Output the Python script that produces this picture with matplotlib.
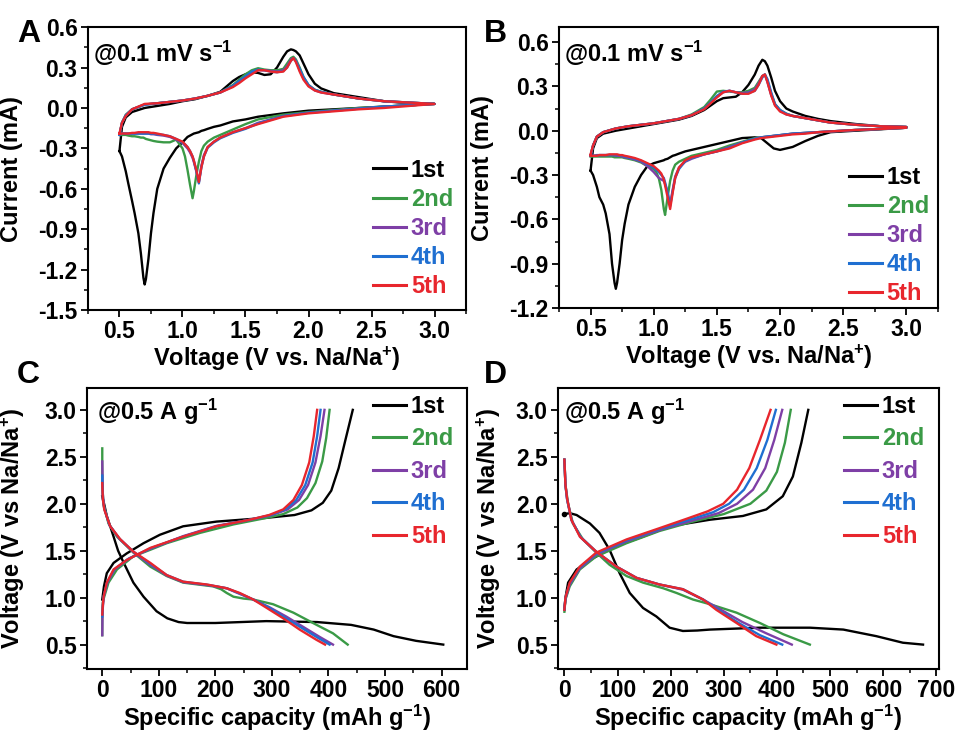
import matplotlib
matplotlib.use("Agg")
import matplotlib.pyplot as plt
from matplotlib.ticker import MultipleLocator, AutoMinorLocator

plt.rcParams['font.family'] = ['Liberation Sans', 'DejaVu Sans']
plt.rcParams['font.weight'] = 'bold'
plt.rcParams['axes.unicode_minus'] = False
plt.rcParams['mathtext.fontset'] = 'custom'
plt.rcParams['mathtext.rm'] = 'Liberation Sans:bold'
plt.rcParams['mathtext.bf'] = 'Liberation Sans:bold'
plt.rcParams['mathtext.it'] = 'Liberation Sans:bold'
plt.rcParams['mathtext.default'] = 'bf'

cycles = ['1st', '2nd', '3rd', '4th', '5th']
colors = ['#000000', '#3a9a46', '#7e3fa6', '#1f6fd1', '#e8262d']

# ---------------- Panel A : CV (anodic & cathodic branches) ----------------
A_ox_V = [0.5, 0.52, 0.55, 0.6, 0.7, 0.8, 0.9, 1.0, 1.1, 1.2, 1.3, 1.4, 1.45, 1.5, 1.55, 1.6, 1.65, 1.7,
          1.75, 1.8, 1.83, 1.86, 1.88, 1.9, 1.93, 1.96, 2.0, 2.05, 2.1, 2.2, 2.3, 2.4, 2.6, 2.8, 3.0]
A_ox_1 = [-0.32, -0.14, -0.07, -0.03, 0.0, 0.015, 0.03, 0.05, 0.065, 0.09, 0.12, 0.2, 0.23, 0.25, 0.265, 0.26,
          0.245, 0.25, 0.3, 0.38, 0.42, 0.435, 0.43, 0.42, 0.39, 0.33, 0.25, 0.18, 0.145, 0.11, 0.095, 0.08,
          0.05, 0.035, 0.03]
A_ox_2 = [-0.2, -0.11, -0.05, -0.01, 0.025, 0.035, 0.045, 0.055, 0.07, 0.09, 0.115, 0.17, 0.21, 0.25, 0.28,
          0.295, 0.285, 0.28, 0.28, 0.29, 0.33, 0.37, 0.38, 0.36, 0.3, 0.23, 0.17, 0.135, 0.12, 0.1, 0.085,
          0.07, 0.05, 0.04, 0.03]
A_ox_3 = [-0.2, -0.11, -0.055, -0.01, 0.025, 0.035, 0.045, 0.055, 0.07, 0.09, 0.115, 0.16, 0.2, 0.23, 0.26,
          0.28, 0.28, 0.275, 0.27, 0.28, 0.31, 0.36, 0.37, 0.35, 0.28, 0.22, 0.165, 0.13, 0.115, 0.1, 0.085,
          0.07, 0.05, 0.04, 0.03]
A_ox_4 = [-0.2, -0.11, -0.055, -0.01, 0.025, 0.035, 0.045, 0.055, 0.07, 0.09, 0.115, 0.165, 0.2, 0.235,
          0.27, 0.285, 0.28, 0.27, 0.265, 0.275, 0.3, 0.35, 0.37, 0.35, 0.29, 0.23, 0.17, 0.135, 0.12, 0.1,
          0.085, 0.07, 0.05, 0.04, 0.03]
A_ox_5 = [-0.19, -0.11, -0.06, -0.01, 0.03, 0.035, 0.045, 0.055, 0.07, 0.09, 0.115, 0.155, 0.185, 0.22,
          0.25, 0.28, 0.28, 0.27, 0.265, 0.27, 0.3, 0.35, 0.37, 0.34, 0.27, 0.21, 0.16, 0.13, 0.115, 0.1,
          0.085, 0.07, 0.05, 0.04, 0.03]

A_red_V = [3.0, 2.8, 2.6, 2.4, 2.2, 2.0, 1.8, 1.6, 1.5, 1.4, 1.3, 1.25, 1.2, 1.17, 1.15, 1.13, 1.11, 1.09,
           1.08, 1.06, 1.04, 1.02, 1.0, 0.95, 0.9, 0.85, 0.8, 0.77, 0.75, 0.73, 0.71, 0.7, 0.69, 0.67, 0.65,
           0.62, 0.6, 0.57, 0.55, 0.52, 0.5]
A_red_1 = [0.03, 0.02, 0.01, 0.0, -0.01, -0.02, -0.04, -0.065, -0.085, -0.1, -0.13, -0.14, -0.155, -0.165,
           -0.17, -0.18, -0.185, -0.19, -0.195, -0.205, -0.215, -0.235, -0.255, -0.3, -0.37, -0.45, -0.6,
           -0.78, -0.93, -1.12, -1.27, -1.31, -1.26, -1.08, -0.93, -0.78, -0.69, -0.56, -0.47, -0.36, -0.32]
A_red_2 = [0.03, 0.02, 0.01, 0.0, -0.015, -0.03, -0.05, -0.085, -0.12, -0.16, -0.2, -0.22, -0.25, -0.28,
           -0.32, -0.4, -0.5, -0.62, -0.67, -0.57, -0.46, -0.36, -0.3, -0.235, -0.255, -0.255, -0.25, -0.245,
           -0.24, -0.235, -0.23, -0.225, -0.22, -0.22, -0.215, -0.21, -0.21, -0.205, -0.2, -0.2, -0.2]
A_red_3 = [0.03, 0.02, 0.01, -0.005, -0.02, -0.035, -0.06, -0.11, -0.15, -0.18, -0.22, -0.25, -0.29, -0.35,
           -0.43, -0.55, -0.47, -0.4, -0.37, -0.33, -0.3, -0.28, -0.26, -0.235, -0.215, -0.205, -0.2, -0.195,
           -0.195, -0.19, -0.19, -0.19, -0.19, -0.19, -0.19, -0.19, -0.19, -0.19, -0.19, -0.19, -0.19]
A_red_4 = [0.03, 0.02, 0.01, -0.005, -0.02, -0.035, -0.06, -0.115, -0.155, -0.185, -0.225, -0.255, -0.295,
           -0.36, -0.44, -0.56, -0.47, -0.39, -0.36, -0.32, -0.29, -0.27, -0.255, -0.23, -0.21, -0.2, -0.195,
           -0.19, -0.19, -0.19, -0.19, -0.19, -0.19, -0.19, -0.19, -0.19, -0.19, -0.19, -0.19, -0.19, -0.19]
A_red_5 = [0.03, 0.015, 0.0, -0.01, -0.025, -0.04, -0.065, -0.12, -0.15, -0.18, -0.22, -0.25, -0.29, -0.36,
           -0.44, -0.55, -0.46, -0.39, -0.36, -0.32, -0.29, -0.27, -0.25, -0.23, -0.21, -0.2, -0.19, -0.185,
           -0.185, -0.18, -0.18, -0.18, -0.18, -0.18, -0.18, -0.185, -0.185, -0.19, -0.19, -0.19, -0.19]

# ---------------- Panel B : CV ----------------
B_ox_V = A_ox_V
B_ox_1 = [-0.27, -0.12, -0.05, -0.02, 0.0, 0.015, 0.03, 0.045, 0.06, 0.075, 0.1, 0.14, 0.17, 0.2, 0.22,
          0.225, 0.23, 0.26, 0.31, 0.38, 0.44, 0.48, 0.47, 0.44, 0.36, 0.27, 0.2, 0.15, 0.13, 0.1, 0.08,
          0.065, 0.045, 0.03, 0.025]
B_ox_2 = [-0.17, -0.1, -0.04, -0.01, 0.015, 0.03, 0.04, 0.05, 0.065, 0.08, 0.11, 0.16, 0.21, 0.265, 0.27,
          0.265, 0.26, 0.26, 0.27, 0.29, 0.33, 0.37, 0.38, 0.34, 0.25, 0.18, 0.14, 0.115, 0.1, 0.085, 0.07,
          0.055, 0.04, 0.03, 0.025]
B_ox_3 = [-0.17, -0.1, -0.04, -0.01, 0.015, 0.03, 0.04, 0.05, 0.065, 0.08, 0.105, 0.15, 0.19, 0.23, 0.26,
          0.27, 0.26, 0.255, 0.26, 0.28, 0.32, 0.37, 0.38, 0.33, 0.24, 0.175, 0.135, 0.11, 0.1, 0.085, 0.07,
          0.055, 0.04, 0.03, 0.025]
B_ox_4 = [-0.17, -0.1, -0.04, -0.01, 0.015, 0.03, 0.04, 0.05, 0.065, 0.08, 0.105, 0.15, 0.19, 0.235, 0.265,
          0.27, 0.26, 0.25, 0.255, 0.27, 0.31, 0.36, 0.38, 0.35, 0.26, 0.18, 0.14, 0.115, 0.1, 0.085, 0.07,
          0.055, 0.04, 0.03, 0.025]
B_ox_5 = [-0.16, -0.1, -0.04, -0.01, 0.015, 0.03, 0.04, 0.05, 0.065, 0.08, 0.105, 0.145, 0.185, 0.225,
          0.26, 0.27, 0.26, 0.25, 0.25, 0.27, 0.31, 0.37, 0.38, 0.33, 0.24, 0.17, 0.13, 0.11, 0.1, 0.085,
          0.07, 0.055, 0.04, 0.03, 0.025]

B_red_V = [3.0, 2.8, 2.6, 2.4, 2.3, 2.2, 2.1, 2.0, 1.95, 1.9, 1.85, 1.8, 1.7, 1.6, 1.5, 1.4, 1.3, 1.25, 1.2,
           1.17, 1.15, 1.13, 1.11, 1.09, 1.08, 1.06, 1.04, 1.02, 1.0, 0.95, 0.9, 0.85, 0.8, 0.77, 0.75, 0.73,
           0.71, 0.7, 0.69, 0.67, 0.65, 0.62, 0.6, 0.57, 0.55, 0.52, 0.5]
B_red_1 = [0.02, 0.01, 0.0, -0.01, -0.035, -0.07, -0.11, -0.13, -0.12, -0.085, -0.05, -0.045, -0.05, -0.07,
           -0.09, -0.11, -0.13, -0.14, -0.155, -0.165, -0.17, -0.18, -0.19, -0.195, -0.2, -0.205, -0.21,
           -0.215, -0.22, -0.24, -0.3, -0.38, -0.5, -0.63, -0.74, -0.9, -1.03, -1.07, -1.03, -0.9, -0.7,
           -0.56, -0.5, -0.45, -0.38, -0.3, -0.27]
B_red_2 = [0.02, 0.012, 0.005, -0.005, -0.01, -0.015, -0.02, -0.03, -0.035, -0.04, -0.045, -0.05, -0.075,
           -0.1, -0.13, -0.15, -0.17, -0.19, -0.21, -0.23, -0.27, -0.34, -0.45, -0.57, -0.53, -0.4, -0.32,
           -0.28, -0.26, -0.24, -0.215, -0.2, -0.19, -0.185, -0.18, -0.18, -0.18, -0.18, -0.18, -0.175,
           -0.175, -0.175, -0.175, -0.175, -0.175, -0.175, -0.175]
B_red_3 = [0.02, 0.012, 0.005, -0.005, -0.01, -0.015, -0.02, -0.03, -0.035, -0.04, -0.045, -0.055, -0.08,
           -0.11, -0.14, -0.16, -0.19, -0.21, -0.25, -0.31, -0.4, -0.5, -0.42, -0.36, -0.34, -0.33, -0.32,
           -0.3, -0.28, -0.24, -0.21, -0.195, -0.185, -0.18, -0.175, -0.17, -0.17, -0.17, -0.165, -0.165,
           -0.165, -0.165, -0.165, -0.165, -0.165, -0.17, -0.17]
B_red_4 = [0.02, 0.012, 0.005, -0.005, -0.01, -0.015, -0.02, -0.03, -0.035, -0.04, -0.045, -0.055, -0.08,
           -0.115, -0.14, -0.16, -0.185, -0.205, -0.26, -0.32, -0.41, -0.51, -0.42, -0.35, -0.32, -0.3,
           -0.28, -0.265, -0.25, -0.225, -0.205, -0.19, -0.18, -0.175, -0.17, -0.165, -0.165, -0.165, -0.165,
           -0.165, -0.165, -0.165, -0.165, -0.165, -0.17, -0.17, -0.17]
B_red_5 = [0.02, 0.012, 0.005, -0.005, -0.01, -0.02, -0.025, -0.035, -0.04, -0.045, -0.05, -0.06, -0.085,
           -0.12, -0.14, -0.16, -0.18, -0.2, -0.25, -0.32, -0.42, -0.53, -0.45, -0.37, -0.33, -0.29, -0.27,
           -0.255, -0.24, -0.22, -0.2, -0.185, -0.175, -0.17, -0.165, -0.165, -0.16, -0.16, -0.16, -0.16,
           -0.16, -0.165, -0.165, -0.165, -0.17, -0.17, -0.17]

# ---------------- Panel C : charge/discharge (capacity, voltage) ----------------
C_dis_1 = [(0, 2.08), (4, 1.98), (8, 1.87), (14, 1.76), (20, 1.65), (28, 1.5), (38, 1.37), (55, 1.16),
           (73, 1.01), (96, 0.855), (115, 0.78), (135, 0.74), (150, 0.73), (200, 0.73), (290, 0.75),
           (380, 0.74), (440, 0.71), (480, 0.66), (515, 0.59), (555, 0.54), (603, 0.5)]
C_chg_1 = [(0, 0.98), (3, 1.12), (8, 1.26), (20, 1.37), (43, 1.47), (73, 1.58), (102, 1.67), (143, 1.76),
           (202, 1.81), (290, 1.85), (340, 1.88), (370, 1.93), (390, 2.01), (405, 2.14), (418, 2.38),
           (430, 2.68), (443, 3.0)]
C_dis_2 = [(0, 2.59), (0, 2.22), (2, 2.0), (11, 1.79), (26, 1.65), (55, 1.48), (85, 1.33), (114, 1.23),
           (143, 1.16), (196, 1.12), (210, 1.09), (220, 1.05), (232, 1.01), (250, 0.99), (267, 0.98),
           (302, 0.93), (338, 0.84), (379, 0.71), (408, 0.62), (434, 0.5)]
C_chg_2 = [(0, 0.6), (0, 0.8), (1, 0.95), (3.5, 1.01), (11, 1.16), (26, 1.3), (55, 1.44), (85, 1.51),
           (114, 1.58), (173, 1.69), (232, 1.78), (291, 1.85), (320, 1.89), (345, 1.96), (362, 2.06),
           (377, 2.22), (389, 2.45), (396, 2.7), (402, 3.0)]
C_dis_3 = [(0, 2.45), (1, 2.1), (3.5, 1.95), (13, 1.77), (30, 1.63), (55, 1.485), (85, 1.35), (114, 1.235),
           (143, 1.165), (190, 1.13), (220, 1.1), (243, 1.04), (267, 0.98), (295, 0.9), (325, 0.8),
           (355, 0.69), (385, 0.58), (408, 0.5)]
C_chg_3 = [(0, 0.6), (0.5, 0.85), (2.4, 1.01), (9, 1.16), (22, 1.3), (48, 1.42), (85, 1.52), (143, 1.655),
           (202, 1.765), (261, 1.83), (300, 1.88), (328, 1.94), (348, 2.04), (364, 2.2), (377, 2.44),
           (386, 2.72), (393, 3.0)]
C_dis_4 = [(0, 2.3), (1, 2.05), (3.5, 1.95), (13, 1.77), (30, 1.63), (55, 1.49), (85, 1.36), (114, 1.24),
           (143, 1.17), (188, 1.135), (220, 1.1), (243, 1.045), (267, 0.98), (293, 0.9), (322, 0.79),
           (352, 0.68), (382, 0.57), (402, 0.5)]
C_chg_4 = [(0, 0.8), (1, 0.92), (2.4, 1.01), (8.5, 1.16), (21, 1.3), (45, 1.41), (85, 1.525), (143, 1.65),
           (202, 1.76), (261, 1.83), (298, 1.88), (324, 1.94), (343, 2.04), (359, 2.2), (372, 2.44),
           (380, 2.72), (386, 3.0)]
C_dis_5 = [(0, 2.22), (1, 2.05), (3.5, 1.94), (14, 1.76), (32, 1.62), (55, 1.49), (85, 1.37), (114, 1.24),
           (143, 1.17), (185, 1.14), (220, 1.1), (243, 1.05), (267, 0.98), (291, 0.89), (320, 0.78),
           (349, 0.66), (379, 0.55), (394, 0.5)]
C_chg_5 = [(0, 0.82), (1, 0.92), (2.4, 1.01), (8, 1.16), (20, 1.3), (43, 1.4), (85, 1.53), (143, 1.65),
           (202, 1.76), (261, 1.83), (295, 1.88), (320, 1.94), (338, 2.04), (353, 2.2), (366, 2.44),
           (374, 2.72), (380, 3.0)]

# ---------------- Panel D : charge/discharge ----------------
D_dis_1 = [(0, 1.89), (10, 1.9), (23, 1.88), (48, 1.79), (66, 1.69), (85, 1.51), (104, 1.26), (123, 1.05),
           (148, 0.89), (173, 0.8), (198, 0.68), (223, 0.645), (250, 0.65), (274, 0.66), (368, 0.68),
           (462, 0.68), (525, 0.66), (587, 0.59), (637, 0.52), (675, 0.5)]
D_chg_1 = [(0, 0.87), (2, 1.0), (7, 1.16), (23, 1.3), (54, 1.42), (98, 1.55), (148, 1.65), (198, 1.76),
           (274, 1.83), (336, 1.87), (380, 1.94), (411, 2.08), (430, 2.29), (446, 2.65), (459, 3.0)]
D_dis_2 = [(0, 2.47), (2, 2.2), (7, 2.0), (16, 1.79), (35, 1.62), (60, 1.48), (85, 1.35), (117, 1.23),
           (148, 1.16), (186, 1.1), (211, 1.05), (242, 0.98), (274, 0.93), (324, 0.84), (368, 0.73),
           (412, 0.61), (462, 0.5)]
D_chg_2 = [(0, 0.85), (2, 0.98), (10, 1.12), (29, 1.3), (60, 1.44), (117, 1.58), (179, 1.71), (242, 1.81),
           (300, 1.89), (350, 2.0), (380, 2.14), (400, 2.34), (415, 2.65), (426, 3.0)]
D_dis_3 = [(0, 2.47), (2, 2.2), (5, 2.05), (14, 1.82), (31, 1.64), (60, 1.485), (98, 1.33), (136, 1.21),
           (179, 1.14), (223, 1.085), (261, 0.98), (292, 0.88), (335, 0.74), (380, 0.62), (428, 0.5)]
D_chg_3 = [(0, 0.87), (2, 0.99), (10, 1.14), (29, 1.31), (60, 1.46), (117, 1.6), (179, 1.72), (240, 1.82),
           (290, 1.9), (325, 2.0), (355, 2.15), (378, 2.38), (395, 2.68), (410, 3.0)]
D_dis_4 = [(0, 2.47), (2, 2.2), (5, 2.05), (13, 1.83), (30, 1.65), (60, 1.49), (98, 1.33), (136, 1.21),
           (179, 1.14), (223, 1.09), (261, 0.98), (288, 0.875), (328, 0.73), (368, 0.6), (410, 0.5)]
D_chg_4 = [(0, 0.87), (2, 1.0), (10, 1.15), (29, 1.32), (60, 1.47), (117, 1.61), (179, 1.73), (235, 1.83),
           (280, 1.91), (310, 2.0), (338, 2.15), (362, 2.38), (382, 2.68), (398, 3.0)]
D_dis_5 = [(0, 2.47), (2, 2.2), (5, 2.06), (13, 1.83), (29, 1.65), (60, 1.49), (98, 1.33), (136, 1.21),
           (179, 1.14), (223, 1.09), (261, 0.98), (286, 0.87), (324, 0.73), (361, 0.59), (399, 0.5)]
D_chg_5 = [(0, 0.87), (2, 1.0), (10, 1.16), (29, 1.33), (60, 1.48), (117, 1.62), (179, 1.74), (230, 1.84),
           (270, 1.92), (299, 2.0), (325, 2.15), (348, 2.38), (368, 2.68), (388, 3.0)]

FS_TICK = 16.5
FS_LAB = 17
FS_LEG = 17
LW = 1.7

fig = plt.figure(figsize=(9.56, 7.33), dpi=100)

def style(ax, xmaj, ymaj):
    for s in ax.spines.values():
        s.set_linewidth(1.5)
    ax.xaxis.set_major_locator(MultipleLocator(xmaj))
    ax.yaxis.set_major_locator(MultipleLocator(ymaj))
    ax.xaxis.set_minor_locator(AutoMinorLocator(2))
    ax.yaxis.set_minor_locator(AutoMinorLocator(2))
    ax.tick_params(which='major', direction='out', length=5, width=1.3, labelsize=FS_TICK, pad=2.5)
    ax.tick_params(which='minor', direction='out', length=3, width=1.1)
    for lab in ax.get_xticklabels() + ax.get_yticklabels():
        lab.set_fontweight('bold')

def legend(ax, x, y, spacing):
    leg = ax.legend(loc='upper left', bbox_to_anchor=(x, y), frameon=False, borderpad=0, borderaxespad=0,
                    handlelength=1.4, handletextpad=0.2, labelspacing=spacing,
                    prop={'weight': 'bold', 'size': FS_LEG}, labelcolor='linecolor')
    for h in leg.get_lines():
        h.set_linewidth(2.2)
    return leg

# Panel A
axA = fig.add_axes([0.092, 0.577, 0.3955, 0.386])
for c, lab, ox, rd in zip(colors, cycles, [A_ox_1, A_ox_2, A_ox_3, A_ox_4, A_ox_5],
                          [A_red_1, A_red_2, A_red_3, A_red_4, A_red_5]):
    axA.plot(A_ox_V + A_red_V, ox + rd, color=c, lw=LW, label=lab, solid_joinstyle='round')
axA.set_xlim(0.25, 3.25)
axA.set_ylim(-1.5, 0.6)
style(axA, 0.5, 0.3)
axA.set_xlabel(r'Voltage (V vs. Na/Na$^{+}$)', fontsize=FS_LAB, fontweight='bold', labelpad=1)
axA.set_ylabel('Current (mA)', fontsize=FS_LAB, fontweight='bold')
axA.yaxis.set_label_coords(-0.172, 0.5)
axA.text(0.013, 0.876, r'@0.1 mV s$^{-1}$', transform=axA.transAxes, fontsize=FS_LEG, fontweight='bold',
         va='baseline')
legend(axA, 0.754, 0.535, 0.26)

# Panel B
axB = fig.add_axes([0.5847, 0.5798, 0.3964, 0.383])
for c, lab, ox, rd in zip(colors, cycles, [B_ox_1, B_ox_2, B_ox_3, B_ox_4, B_ox_5],
                          [B_red_1, B_red_2, B_red_3, B_red_4, B_red_5]):
    axB.plot(B_ox_V + B_red_V, ox + rd, color=c, lw=LW, label=lab, solid_joinstyle='round')
axB.set_xlim(0.25, 3.25)
axB.set_ylim(-1.2, 0.7)
style(axB, 0.5, 0.3)
axB.set_xlabel(r'Voltage (V vs. Na/Na$^{+}$)', fontsize=FS_LAB, fontweight='bold', labelpad=1)
axB.set_ylabel('Current (mA)', fontsize=FS_LAB, fontweight='bold')
axB.yaxis.set_label_coords(-0.172, 0.5)
axB.text(0.013, 0.875, r'@0.1 mV s$^{-1}$', transform=axB.transAxes, fontsize=FS_LEG, fontweight='bold',
         va='baseline')
legend(axB, 0.765, 0.505, 0.25)

# Panel C
axC = fig.add_axes([0.091, 0.0873, 0.3975, 0.383])
for c, lab, d, ch in zip(colors, cycles, [C_dis_1, C_dis_2, C_dis_3, C_dis_4, C_dis_5],
                         [C_chg_1, C_chg_2, C_chg_3, C_chg_4, C_chg_5]):
    axC.plot([p[0] for p in d], [p[1] for p in d], color=c, lw=LW, label=lab, solid_joinstyle='round')
    axC.plot([p[0] for p in ch], [p[1] for p in ch], color=c, lw=LW, solid_joinstyle='round')
axC.set_xlim(-27, 645)
axC.set_ylim(0.24, 3.23)
style(axC, 100, 0.5)
axC.set_xlabel(r'Specific capacity (mAh g$^{-1}$)', fontsize=FS_LAB, fontweight='bold', labelpad=0)
axC.set_ylabel(r'Voltage (V vs Na/Na$^{+}$)', fontsize=FS_LAB, fontweight='bold')
axC.yaxis.set_label_coords(-0.158, 0.5)
axC.text(0.026, 0.886, r'@0.5 A g$^{-1}$', transform=axC.transAxes, fontsize=FS_LEG, fontweight='bold',
         va='baseline')
legend(axC, 0.753, 0.976, 0.4)

# Panel D
axD = fig.add_axes([0.5837, 0.0873, 0.3985, 0.383])
for c, lab, d, ch in zip(colors, cycles, [D_dis_1, D_dis_2, D_dis_3, D_dis_4, D_dis_5],
                         [D_chg_1, D_chg_2, D_chg_3, D_chg_4, D_chg_5]):
    axD.plot([p[0] for p in d], [p[1] for p in d], color=c, lw=LW, label=lab, solid_joinstyle='round')
    axD.plot([p[0] for p in ch], [p[1] for p in ch], color=c, lw=LW, solid_joinstyle='round')
axD.plot([D_dis_1[0][0]], [D_dis_1[0][1]], 'o', color='k', ms=3)
axD.set_xlim(-12, 705)
axD.set_ylim(0.24, 3.23)
style(axD, 100, 0.5)
axD.set_xlabel(r'Specific capacity (mAh g$^{-1}$)', fontsize=FS_LAB, fontweight='bold', labelpad=0)
axD.set_ylabel(r'Voltage (V vs Na/Na$^{+}$)', fontsize=FS_LAB, fontweight='bold')
axD.yaxis.set_label_coords(-0.144, 0.5)
axD.text(0.016, 0.886, r'@0.5 A g$^{-1}$', transform=axD.transAxes, fontsize=FS_LEG, fontweight='bold',
         va='baseline')
legend(axD, 0.751, 0.976, 0.4)

for x, y, t in [(0.0178, 0.9427, 'A'), (0.506, 0.9427, 'B'), (0.0178, 0.4775, 'C'), (0.506, 0.4775, 'D')]:
    fig.text(x, y, t, fontsize=23, fontweight='bold', va='baseline', ha='left')

fig.savefig('out.png', dpi=100)
